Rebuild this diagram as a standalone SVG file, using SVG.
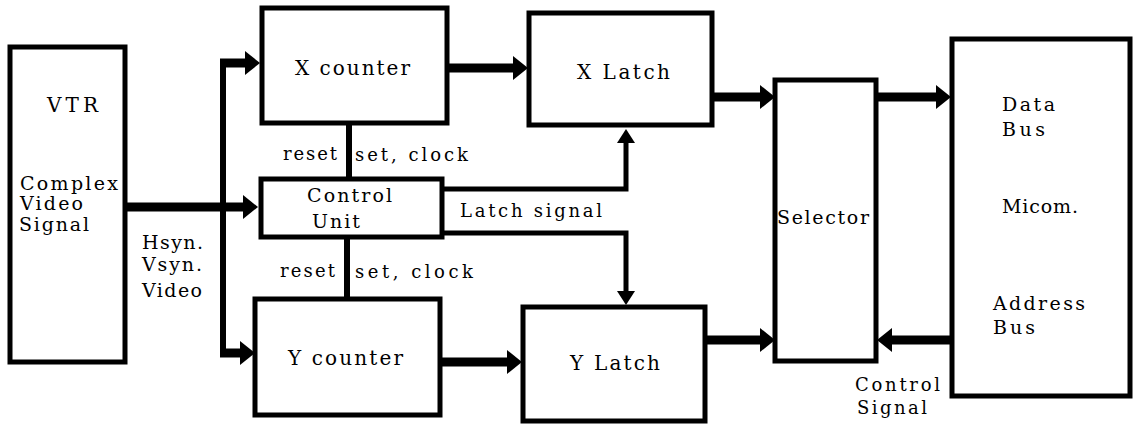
<svg xmlns="http://www.w3.org/2000/svg" width="1134" height="429" viewBox="0 0 1134 429">
<style>
.box{fill:#fff;stroke:#000;stroke-width:5}
.t{font-family:"DejaVu Serif","Liberation Serif",serif;font-size:19px;fill:#000}
.s{font-size:18px}
.l{font-size:20px}
.bus{stroke:#000;stroke-width:9;fill:none}
.thin{stroke:#000;stroke-width:5;fill:none}
.ctl{stroke:#000;stroke-width:6;fill:none}
</style>
<defs>
<marker id="big" markerUnits="userSpaceOnUse" markerWidth="16" markerHeight="26" viewBox="0 -13 16 26" refX="1" refY="0" orient="auto">
<path d="M0,-12 L15,0 L0,12 Z" fill="#000"/>
</marker>
<marker id="small" markerUnits="userSpaceOnUse" markerWidth="16" markerHeight="20" viewBox="0 -10 16 20" refX="1" refY="0" orient="auto">
<path d="M0,-9 L14,0 L0,9 Z" fill="#000"/>
</marker>
</defs>
<rect width="1134" height="429" fill="#fff"/>
<g id="connectors">
<path class="bus" d="M125,207 H244" marker-end="url(#big)"/>
<path class="ctl" d="M223,353 V63" stroke-width="7"/>
<path class="bus" d="M220,63 H246" marker-end="url(#big)"/>
<path class="bus" d="M220,353 H241" marker-end="url(#big)"/>
<path class="bus" d="M447,68 H514" marker-end="url(#big)"/>
<path class="bus" d="M440,362 H508" marker-end="url(#big)"/>
<path class="bus" d="M712,97 H761" marker-end="url(#big)"/>
<path class="bus" d="M705,340 H761" marker-end="url(#big)"/>
<path class="bus" d="M876,97 H937" marker-end="url(#big)"/>
<path class="bus" d="M952,340 H891" marker-end="url(#big)"/>
<path class="thin" d="M442,189 H626 V142" marker-end="url(#small)"/>
<path class="thin" d="M442,233 H626 V292" marker-end="url(#small)"/>
<path class="ctl" d="M349,123 V179"/>
<path class="ctl" d="M347,237 V299"/>
</g>
<g id="vtr">
<rect class="box" x="10" y="47" width="115" height="315"/>
<text class="t l" x="47" y="112" textLength="51" lengthAdjust="spacing">VTR</text>
<text class="t" x="20" y="190" textLength="98" lengthAdjust="spacing">Complex</text>
<text class="t" x="20" y="210" textLength="63" lengthAdjust="spacing">Video</text>
<text class="t" x="19" y="231" textLength="70" lengthAdjust="spacing">Signal</text>
</g>
<g id="sync-labels">
<text class="t" x="142" y="249" textLength="61" lengthAdjust="spacing">Hsyn.</text>
<text class="t" x="142" y="271" textLength="60" lengthAdjust="spacing">Vsyn.</text>
<text class="t" x="142" y="297" textLength="60" lengthAdjust="spacing">Video</text>
</g>
<g id="x-counter">
<rect class="box" x="262" y="8" width="185" height="115"/>
<text class="t l" x="295" y="75" textLength="115" lengthAdjust="spacing">X counter</text>
</g>
<g id="control-unit">
<rect class="box" x="261" y="179" width="181" height="58"/>
<text class="t" x="307" y="202" textLength="85" lengthAdjust="spacing">Control</text>
<text class="t" x="312" y="228" textLength="48" lengthAdjust="spacing">Unit</text>
</g>
<g id="y-counter">
<rect class="box" x="255" y="299" width="185" height="116"/>
<text class="t l" x="288" y="365" textLength="115" lengthAdjust="spacing">Y counter</text>
</g>
<g id="ctl-labels">
<text class="t s" x="283" y="160" textLength="54" lengthAdjust="spacing">reset</text>
<text class="t s" x="355" y="161" textLength="113" lengthAdjust="spacing">set, clock</text>
<text class="t s" x="280" y="277" textLength="55" lengthAdjust="spacing">reset</text>
<text class="t s" x="355" y="278" textLength="118" lengthAdjust="spacing">set,  clock</text>
<text class="t s" x="460" y="217" textLength="142" lengthAdjust="spacing">Latch signal</text>
</g>
<g id="x-latch">
<rect class="box" x="529" y="13" width="183" height="112"/>
<text class="t l" x="577" y="79" textLength="93" lengthAdjust="spacing">X Latch</text>
</g>
<g id="y-latch">
<rect class="box" x="523" y="307" width="182" height="114"/>
<text class="t l" x="570" y="370" textLength="90" lengthAdjust="spacing">Y Latch</text>
</g>
<g id="selector">
<rect class="box" x="775" y="80" width="101" height="281"/>
<text class="t" x="777" y="224" textLength="92" lengthAdjust="spacing">Selector</text>
</g>
<g id="micom">
<rect class="box" x="952" y="39" width="178" height="357"/>
<text class="t" x="1002" y="111" textLength="53" lengthAdjust="spacing">Data</text>
<text class="t" x="1002" y="136" textLength="43" lengthAdjust="spacing">Bus</text>
<text class="t" x="1002" y="213" textLength="76" lengthAdjust="spacing">Micom.</text>
<text class="t" x="993" y="310" textLength="92" lengthAdjust="spacing">Address</text>
<text class="t" x="993" y="334" textLength="42" lengthAdjust="spacing">Bus</text>
</g>
<g id="control-signal">
<text class="t s" x="855" y="391" textLength="85" lengthAdjust="spacing">Control</text>
<text class="t s" x="857" y="414" textLength="70" lengthAdjust="spacing">Signal</text>
</g>
</svg>
